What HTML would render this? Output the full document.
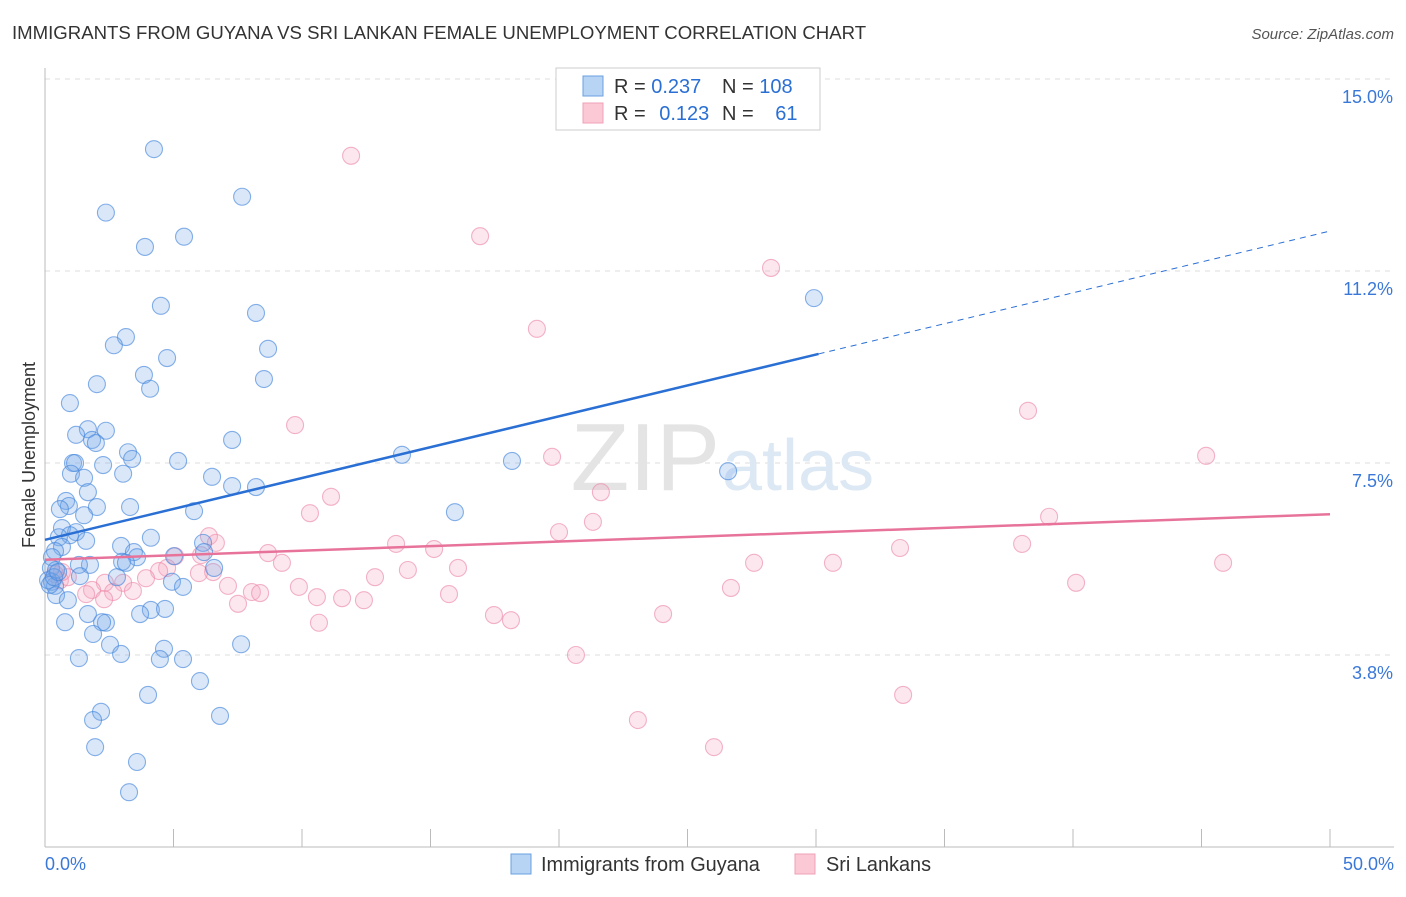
<!DOCTYPE html>
<html><head><meta charset="utf-8"><style>
body{margin:0;background:#fff;font-family:"Liberation Sans",sans-serif;}
svg text{font-family:"Liberation Sans",sans-serif;}
</style></head><body>
<svg id="chart" width="1406" height="892" viewBox="0 0 1406 892">
<text x="12" y="39" font-size="18.6" fill="#333">IMMIGRANTS FROM GUYANA VS SRI LANKAN FEMALE UNEMPLOYMENT CORRELATION CHART</text>
<text x="1394" y="39" font-size="15" fill="#555" text-anchor="end" font-style="italic">Source: ZipAtlas.com</text>
<text x="35" y="455" font-size="18" fill="#333" text-anchor="middle" transform="rotate(-90 35 455)">Female Unemployment</text>
<g id="grid"></g>
<text x="720" y="490" font-size="96" fill="#e4e4e4" text-anchor="end" font-family="Liberation Serif">ZIP</text>
<text x="722" y="490" font-size="72" fill="#dde8f5">atlas</text>
<g id="marks"></g>
<g>
<rect x="556" y="68" width="264" height="62" fill="#fff" stroke="#ccc"/>
<rect x="583" y="76" width="20" height="20" fill="#b8d4f4" stroke="#6aa0e0"/>
<rect x="583" y="103" width="20" height="20" fill="#fbc8d6" stroke="#f0a0b8"/>
<text x="614" y="93" font-size="20" fill="#333">R = <tspan fill="#2a6fd4">0.237</tspan></text>
<text x="722" y="93" font-size="20" fill="#333">N = <tspan fill="#2a6fd4">108</tspan></text>
<text x="614" y="120" font-size="20" fill="#333">R = <tspan fill="#2a6fd4" dx="8">0.123</tspan></text>
<text x="722" y="120" font-size="20" fill="#333">N = <tspan fill="#2a6fd4" dx="16">61</tspan></text>
</g>
<g>
<rect x="511" y="854" width="20" height="20" fill="#b8d4f4" stroke="#6aa0e0"/>
<text x="541" y="871" font-size="19.9" fill="#333">Immigrants from Guyana</text>
<rect x="795" y="854" width="20" height="20" fill="#fbc8d6" stroke="#f0a0b8"/>
<text x="826" y="871" font-size="19.9" fill="#333">Sri Lankans</text>
</g>
</svg>
<script>
const blueX=[4.24,7.67,2.37,5.41,3.89,29.92,4.51,8.21,3.15,2.68,8.68,4.75,3.85,8.52,2.02,4.09,0.97,1.67,2.37,1.21,1.83,1.98,7.28,3.23,3.39,1.09,1.17,13.89,18.17,5.18,2.26,26.58,1.01,1.52,3.04,6.50,7.28,8.21,1.67,0.82,0.93,2.02,3.31,0.58,15.95,5.80,1.52,0.66,1.21,0.97,0.54,1.60,4.12,0.66,0.39,2.96,6.15,3.46,6.19,0.27,3.58,5.02,1.75,1.32,3.00,3.15,6.58,0.23,0.43,1.36,2.80,4.94,0.27,0.39,5.37,0.43,0.89,4.12,4.67,1.67,3.70,0.78,2.37,2.22,1.87,2.53,2.96,7.63,4.63,1.32,4.47,5.37,6.03,4.01,2.18,1.87,6.81,1.95,3.58,3.27,0.12,0.19,0.35,0.51];
const blueY=[13.63,12.70,12.39,11.92,11.72,10.72,10.57,10.43,9.96,9.80,9.73,9.55,9.22,9.14,9.04,8.95,8.67,8.16,8.13,8.05,7.95,7.89,7.95,7.71,7.58,7.50,7.50,7.66,7.54,7.54,7.46,7.34,7.29,7.21,7.29,7.23,7.05,7.03,6.93,6.76,6.66,6.64,6.64,6.60,6.54,6.56,6.48,6.23,6.15,6.09,6.05,5.98,6.04,5.86,5.78,5.88,5.94,5.76,5.76,5.66,5.66,5.68,5.51,5.51,5.57,5.55,5.45,5.45,5.41,5.29,5.27,5.18,5.18,5.10,5.08,4.92,4.82,4.63,4.65,4.55,4.55,4.39,4.38,4.39,4.16,3.95,3.77,3.96,3.87,3.69,3.67,3.67,3.24,2.97,2.64,2.48,2.56,1.95,1.66,1.07,5.21,5.12,5.27,5.37];
const pinkX=[11.91,16.93,28.25,19.14,38.25,9.73,45.18,19.73,21.63,11.13,10.31,39.07,21.32,20.00,6.38,6.65,13.66,15.14,38.02,33.27,5.06,8.68,6.07,27.59,30.66,45.84,9.22,16.07,14.12,12.84,4.75,6.54,5.99,4.44,3.93,3.04,40.12,9.88,26.69,7.12,2.33,0.58,0.89,0.39,0.66,1.83,2.65,3.42,8.05,8.37,15.72,7.51,10.58,11.56,12.41,2.30,1.60,17.47,24.05,18.13,10.66,20.66,33.39,23.07,26.03];
const pinkY=[13.50,11.93,11.31,10.12,8.52,8.24,7.64,7.62,6.93,6.84,6.52,6.45,6.35,6.15,6.07,5.94,5.92,5.82,5.92,5.84,5.68,5.74,5.70,5.55,5.55,5.55,5.55,5.45,5.41,5.27,5.45,5.37,5.35,5.39,5.25,5.16,5.16,5.08,5.06,5.10,5.16,5.21,5.27,5.33,5.37,5.02,4.98,5.00,4.98,4.96,4.94,4.75,4.88,4.86,4.82,4.84,4.94,4.53,4.55,4.43,4.38,3.75,2.97,2.48,1.95];
const blueTrend=[6.00,0.1206,30.1];
const pinkTrend=[5.61,0.0178];
const yTicks=[3.8,7.5,11.2,15.0];
const yTickLabels=["3.8%","7.5%","11.2%","15.0%"];
const xTicks=[0,5,10,15,20,25,30,35,40,45,50];

const NS="http://www.w3.org/2000/svg";
const X0=45,X1=1330,YB=847,PPY=51.2;
const sx=v=>X0+(X1-X0)*v/50;
const sy=v=>YB-v*PPY;
function mk(tag,attrs,parent){const e=document.createElementNS(NS,tag);for(const k in attrs)e.setAttribute(k,attrs[k]);parent.appendChild(e);return e;}
const grid=document.getElementById('grid'),marks=document.getElementById('marks');
yTicks.forEach((t,i)=>{
  const py=YB-(t/3.75)*192*(t===3.8?3.75/3.8:t===7.5?1:t===11.2?11.25/11.2:1);
  const l=mk('line',{x1:45,x2:1394,y1:py,y2:py,stroke:'#ddd','stroke-dasharray':'5,5'},grid);
  
  
  const tx=mk('text',{x:1393,y:py+24,'font-size':18,fill:'#3a78d8','text-anchor':'end'},grid);
  tx.textContent=yTickLabels[i];
  
  
});
const ax=mk('line',{x1:45,x2:45,y1:68,y2:847,stroke:'#bbb'},grid);


const bx=mk('line',{x1:45,x2:1394,y1:847,y2:847,stroke:'#bbb'},grid);


xTicks.forEach(t=>{
  const l=mk('line',{x1:sx(t),x2:sx(t),y1:829,y2:847,stroke:'#bbb'},grid);
  
  
});
const xl=mk('text',{x:45,y:870,'font-size':18,fill:'#3a78d8'},grid);xl.textContent=xTicks[0].toFixed(1)+'%';


const xr=mk('text',{x:1394,y:870,'font-size':18,fill:'#3a78d8','text-anchor':'end'},grid);xr.textContent=xTicks[xTicks.length-1].toFixed(1)+'%';



pinkX.forEach((v,i)=>{
  const c=mk('circle',{cx:sx(v),cy:sy(pinkY[i]),r:8.5,fill:'rgba(246,170,195,0.28)',stroke:'rgba(236,140,170,0.65)','stroke-width':1.1},marks);
  
  
});
blueX.forEach((v,i)=>{
  const c=mk('circle',{cx:sx(v),cy:sy(blueY[i]),r:8.5,fill:'rgba(120,170,232,0.28)',stroke:'rgba(70,135,220,0.65)','stroke-width':1.1},marks);
  
  
});
const bt=mk('line',{x1:sx(0),y1:sy(blueTrend[0]),x2:sx(blueTrend[2]),y2:sy(blueTrend[0]+blueTrend[1]*blueTrend[2]),stroke:'#2a6fd4','stroke-width':2.5},marks);


const bd=mk('line',{x1:sx(blueTrend[2]),y1:sy(blueTrend[0]+blueTrend[1]*blueTrend[2]),x2:sx(50),y2:sy(blueTrend[0]+blueTrend[1]*50),stroke:'#2a6fd4','stroke-width':1,'stroke-dasharray':'6,5'},marks);


const pt=mk('line',{x1:sx(0),y1:sy(pinkTrend[0]),x2:sx(50),y2:sy(pinkTrend[0]+pinkTrend[1]*50),stroke:'#e8739a','stroke-width':2.5},marks);


</script>
</body></html>
